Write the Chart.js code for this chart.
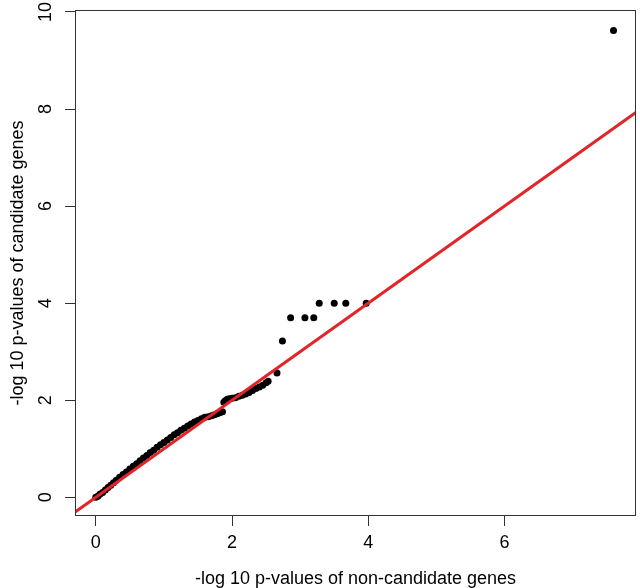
<!DOCTYPE html>
<html>
<head>
<meta charset="utf-8">
<script src="https://cdn.jsdelivr.net/npm/chart.js@4/dist/chart.umd.min.js"></script>
<style>
  html, body { margin: 0; padding: 0; background: #fff; }
  #wrap { width: 640px; height: 588px; }
</style>
</head>
<body>
<div id="wrap"><canvas id="qq"></canvas></div>
<script>
// -log10 p of non-candidate genes (x) vs candidate genes (y)
const qqX = [0.00,0.03,0.06,0.10,0.14,0.18,0.22,0.26,0.30,0.35,0.40,0.45,0.50,0.55,0.60,0.65,0.70,0.75,0.80,0.85,
  0.90,0.95,1.00,1.05,1.10,1.15,1.20,1.25,1.30,1.35,1.40,1.45,1.50,1.55,1.60,1.65,1.70,1.74,1.78,1.82,
  1.86,1.88,1.90,1.93,1.96,2.00,2.05,2.10,2.15,2.20,2.25,2.30,2.35,2.40,2.45,2.50,2.53,2.66,2.74,2.86,
  3.07,3.20,3.28,3.50,3.67,3.97,7.60];
const qqY = [0.00,0.02,0.06,0.10,0.15,0.20,0.25,0.30,0.35,0.41,0.47,0.52,0.58,0.64,0.69,0.75,0.81,0.86,0.92,0.97,
  1.03,1.08,1.13,1.18,1.23,1.29,1.33,1.38,1.42,1.47,1.51,1.55,1.58,1.62,1.65,1.66,1.68,1.70,1.72,1.74,
  1.76,1.96,1.99,2.02,2.03,2.04,2.05,2.08,2.10,2.13,2.16,2.20,2.24,2.27,2.31,2.36,2.39,2.56,3.22,3.70,
  3.70,3.70,4.00,4.00,4.00,4.00,9.62];

// reference line y = x
const ablineX = [-1, 9];
const ablineY = [-1, 9];

const xTicks = [0, 2, 4, 6];
const yTicks = [0, 2, 4, 6, 8, 10];
const xRange = [-0.305, 7.93];
const yRange = [-0.386, 10.04];

const FONT = "'Liberation Sans', Arial, Helvetica, sans-serif";
const INK = "#333";

const points = qqX.map((x, i) => ({ x: x, y: qqY[i] }));
const abline = ablineX.map((x, i) => ({ x: x, y: ablineY[i] }));

// R style: box round the plot and rotated y tick labels
const rStyle = {
  id: "rStyle",
  afterDraw(chart) {
    const { ctx, chartArea: a, scales } = chart;
    ctx.save();
    ctx.strokeStyle = INK;
    ctx.lineWidth = 1;
    ctx.strokeRect(a.left + 0.5, a.top + 0.5, a.right - a.left - 1, a.bottom - a.top - 1);
    ctx.fillStyle = "#000";
    ctx.font = "18px " + FONT;
    ctx.textAlign = "center";
    ctx.textBaseline = "middle";
    yTicks.forEach(v => {
      const py = scales.y.getPixelForValue(v);
      ctx.save();
      ctx.translate(46, py);
      ctx.rotate(-Math.PI / 2);
      ctx.fillText(String(v), 0, 0);
      ctx.restore();
    });
    ctx.restore();
  }
};

new Chart(document.getElementById("qq"), {
  type: "scatter",
  data: {
    datasets: [
      {
        type: "line",
        data: abline,
        borderColor: "#e0262a",
        borderWidth: 3,
        pointRadius: 0,
        order: 0
      },
      {
        data: points,
        backgroundColor: "#000",
        borderWidth: 0,
        pointRadius: 3.5,
        order: 1
      }
    ]
  },
  options: {
    responsive: true,
    maintainAspectRatio: false,
    animation: false,
    layout: { padding: { top: 10, right: 2, left: 0, bottom: 0 } },
    plugins: { legend: { display: false }, tooltip: { enabled: false } },
    scales: {
      x: {
        type: "linear",
        min: xRange[0],
        max: xRange[1],
        afterBuildTicks: s => { s.ticks = xTicks.map(v => ({ value: v })); },
        afterFit: s => { s.height = 72; },
        grid: { drawOnChartArea: false, tickLength: 10, color: INK },
        border: { display: false },
        ticks: { color: "#000", font: { family: FONT, size: 18 }, padding: 6, maxRotation: 0 },
        title: {
          display: true,
          text: "-log 10 p-values of non-candidate genes",
          color: "#000",
          font: { family: FONT, size: 18, lineHeight: 1 },
          padding: { top: 0, bottom: 0 }
        }
      },
      y: {
        type: "linear",
        min: yRange[0],
        max: yRange[1],
        afterBuildTicks: s => { s.ticks = yTicks.map(v => ({ value: v })); },
        afterFit: s => { s.width = 75; },
        grid: { drawOnChartArea: false, tickLength: 10, color: INK },
        border: { display: false },
        ticks: { callback: () => "", padding: 0 },
        title: {
          display: true,
          text: "-log 10 p-values of candidate genes",
          color: "#000",
          font: { family: FONT, size: 18, lineHeight: 1 },
          padding: { top: 9, bottom: 0 }
        }
      }
    }
  },
  plugins: [rStyle]
});
</script>
</body>
</html>
